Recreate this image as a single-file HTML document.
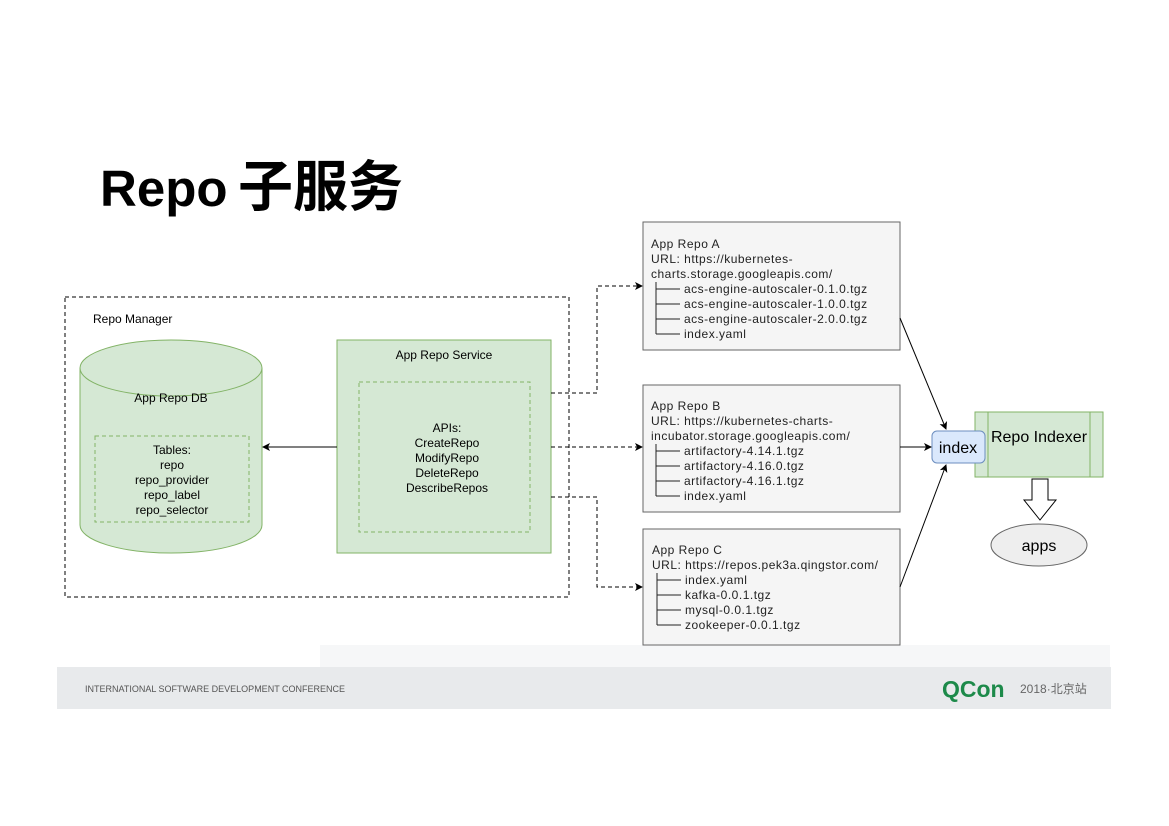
<!DOCTYPE html>
<html><head><meta charset="utf-8"><style>
body{margin:0;width:1169px;height:826px;background:#fff;overflow:hidden;position:relative;font-family:"Liberation Sans","Noto Sans CJK SC",sans-serif}
svg{position:absolute;left:0;top:0}
</style></head><body>
<svg width="1169" height="826" viewBox="0 0 1169 826" font-family="Liberation Sans, Noto Sans CJK SC, sans-serif">
<defs>
<marker id="a" markerWidth="8" markerHeight="8" refX="7" refY="4" orient="auto" markerUnits="userSpaceOnUse"><path d="M0,0 L8,4 L0,8 L2,4 z" fill="#000"/></marker>
</defs>
<rect x="320" y="645" width="790" height="22" fill="#f6f7f8"/>
<rect x="57" y="667" width="1054" height="42" fill="#e8eaec"/>
<text x="85" y="692" font-size="9" fill="#555">INTERNATIONAL SOFTWARE DEVELOPMENT CONFERENCE</text>
<text x="942" y="697" font-size="23" font-weight="bold" fill="#1d8a4a">QCon</text>
<text x="1020" y="693" font-size="12" fill="#666">2018·北京站</text>
<text x="100" y="206" font-size="51" font-weight="bold" fill="#000">Repo</text>
<text x="238" y="206" font-size="55" font-weight="bold" fill="#000">子服务</text>
<rect x="65" y="297" width="504" height="300" fill="none" stroke="#000" stroke-dasharray="4,3"/>
<text x="93" y="323" font-size="12">Repo Manager</text>
<path d="M80,368 L80,525 A91,28 0 0 0 262,525 L262,368" fill="#d5e8d4" stroke="#82b366"/>
<ellipse cx="171" cy="368" rx="91" ry="28" fill="#d5e8d4" stroke="#82b366"/>
<text x="171" y="402" font-size="12" text-anchor="middle">App Repo DB</text>
<rect x="95" y="436" width="154" height="86" fill="none" stroke="#82b366" stroke-dasharray="4,3"/>
<g font-size="12" text-anchor="middle"><text x="172" y="454">Tables:</text><text x="172" y="469">repo</text><text x="172" y="484">repo_provider</text><text x="172" y="499">repo_label</text><text x="172" y="514">repo_selector</text></g>
<rect x="337" y="340" width="214" height="213" fill="#d5e8d4" stroke="#82b366"/>
<text x="444" y="359" font-size="12" text-anchor="middle">App Repo Service</text>
<rect x="359" y="382" width="171" height="150" fill="none" stroke="#82b366" stroke-dasharray="4,3"/>
<g font-size="12" text-anchor="middle"><text x="447" y="432">APIs:</text><text x="447" y="447">CreateRepo</text><text x="447" y="462">ModifyRepo</text><text x="447" y="477">DeleteRepo</text><text x="447" y="492">DescribeRepos</text></g>
<line x1="337" y1="447" x2="263" y2="447" stroke="#000" marker-end="url(#a)"/>
<g fill="none" stroke="#000" stroke-dasharray="4,3">
<path d="M551,393 H597 V286 H642" marker-end="url(#a)"/>
<path d="M551,447 H642" marker-end="url(#a)"/>
<path d="M551,497 H597 V587 H642" marker-end="url(#a)"/>
</g>
<g fill="#f5f5f5" stroke="#666"><rect x="643" y="222" width="257" height="128"/><rect x="643" y="385" width="257" height="127"/><rect x="643" y="529" width="257" height="116"/></g>
<g font-size="12" fill="#222" letter-spacing="0.5">
<text x="651" y="248">App Repo A</text><text x="651" y="263">URL: https://kubernetes-</text><text x="651" y="278">charts.storage.googleapis.com/</text>
<text x="684" y="293">acs-engine-autoscaler-0.1.0.tgz</text><text x="684" y="308">acs-engine-autoscaler-1.0.0.tgz</text><text x="684" y="323">acs-engine-autoscaler-2.0.0.tgz</text><text x="684" y="338">index.yaml</text>
<text x="651" y="410">App Repo B</text><text x="651" y="425">URL: https://kubernetes-charts-</text><text x="651" y="440">incubator.storage.googleapis.com/</text>
<text x="684" y="455">artifactory-4.14.1.tgz</text><text x="684" y="470">artifactory-4.16.0.tgz</text><text x="684" y="485">artifactory-4.16.1.tgz</text><text x="684" y="500">index.yaml</text>
<text x="652" y="554">App Repo C</text><text x="652" y="569">URL: https://repos.pek3a.qingstor.com/</text>
<text x="685" y="584">index.yaml</text><text x="685" y="599">kafka-0.0.1.tgz</text><text x="685" y="614">mysql-0.0.1.tgz</text><text x="685" y="629">zookeeper-0.0.1.tgz</text>
</g>
<g stroke="#222" fill="none">
<path d="M656,282 V334 M656,289 H680 M656,304 H680 M656,319 H680 M656,334 H680"/>
<path d="M656,444 V496 M656,451 H680 M656,466 H680 M656,481 H680 M656,496 H680"/>
<path d="M657,573 V625 M657,580 H681 M657,595 H681 M657,610 H681 M657,625 H681"/>
</g>
<rect x="975" y="412" width="128" height="65" fill="#d5e8d4" stroke="#82b366"/>
<line x1="988" y1="412" x2="988" y2="477" stroke="#82b366"/><line x1="1090" y1="412" x2="1090" y2="477" stroke="#82b366"/>
<text x="1039" y="442" font-size="16" text-anchor="middle">Repo Indexer</text>
<rect x="932" y="431" width="53" height="32" rx="5" fill="#dae8fc" stroke="#6c8ebf"/>
<text x="958" y="453" font-size="16" text-anchor="middle">index</text>
<g stroke="#000" fill="none">
<line x1="900" y1="318" x2="946" y2="429" marker-end="url(#a)"/>
<line x1="900" y1="447" x2="931" y2="447" marker-end="url(#a)"/>
<line x1="900" y1="587" x2="946" y2="465" marker-end="url(#a)"/>
</g>
<path d="M1032,479 H1048 V500 H1056 L1040,520 L1024,500 H1032 Z" fill="#fff" stroke="#000"/>
<ellipse cx="1039" cy="545" rx="48" ry="21" fill="#eee" stroke="#666"/>
<text x="1039" y="551" font-size="16" text-anchor="middle">apps</text>
</svg>
</body></html>
